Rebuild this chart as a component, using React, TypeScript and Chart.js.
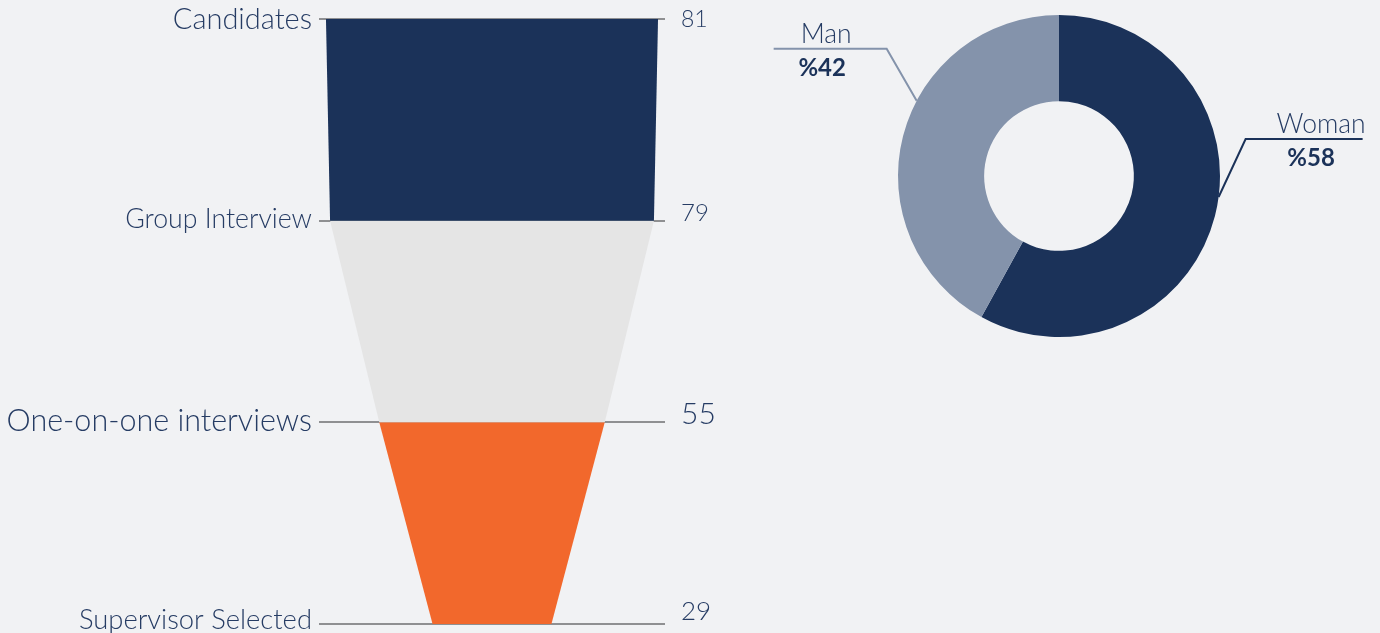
import React, { useEffect, useRef } from "react";
import { Chart, registerables } from "chart.js";

Chart.register(...registerables);

// ---- data ----
const stages = ["Candidates", "Group Interview", "One-on-one interviews", "Supervisor Selected"];
const stageValues = [81, 79, 55, 29];
const segmentColors = ["#1b3259", "#e5e5e5", "#f2682c"];

const genderLabels = ["Woman", "Man"];
const genderValues = [58, 42];
const genderColors = ["#1b3259", "#8493ab"];

// ---- style ----
const BG = "#f1f2f4";
const TEXT = "#263c64";
const FONT = "Lato";
const stageFontSizes = [29, 26.7, 30.5, 27.4];
const valueFontSizes = [23, 24, 30, 26];
const stageLabelShift = [1, -1, -1, -4];
const valueLabelShift = [1, -7, -8, -12];

const genderLabelStyle = [
  { frac: 0.467, elbow: [27, -58], len: 117, dir: 1, nameDx: 17, valueDx: 7 },
  { frac: 0.589, elbow: [-30, -52], len: 113, dir: -1, nameDx: -4, valueDx: -8 },
];

function buildFunnelDatasets() {
  const sets: any[] = [];
  for (let i = 0; i < stageValues.length - 1; i++) {
    const a = stageValues[i];
    const b = stageValues[i + 1];
    sets.push({
      label: stages[i],
      data: [
        { x: -a / 2, y: i },
        { x: a / 2, y: i },
        { x: b / 2, y: i + 1 },
        { x: -b / 2, y: i + 1 },
      ],
      showLine: true,
      fill: "shape",
      backgroundColor: segmentColors[i],
      borderColor: segmentColors[i],
      borderWidth: 0,
      pointRadius: 0,
      tension: 0,
    });
  }
  return sets;
}

// nudges each tick label vertically (text placement only)
const labelShiftPlugin = {
  id: "labelShift",
  beforeDraw(chart: any) {
    const apply = (id: string, shifts: number[]) => {
      const scale = chart.scales[id];
      if (!scale) return;
      const items = scale.getLabelItems(chart.chartArea);
      items.forEach((it: any, i: number) => {
        const v = scale.ticks[i] ? scale.ticks[i].value : i;
        if (!it._shifted && it.options && it.options.translation) {
          it.options.translation = [it.options.translation[0], it.options.translation[1] + (shifts[v] || 0)];
          it._shifted = true;
        }
      });
    };
    apply("y", stageLabelShift);
    apply("y2", valueLabelShift);
  },
};

const labelPlugin = {
  id: "genderLabels",
  afterDatasetsDraw(chart: any) {
    const meta = chart.getDatasetMeta(0);
    const ctx = chart.ctx;
    meta.data.forEach((arc: any, i: number) => {
      const p = arc.getProps(["x", "y", "startAngle", "endAngle", "outerRadius"], true);
      const st = genderLabelStyle[i];
      const a = p.startAngle + st.frac * (p.endAngle - p.startAngle);
      const ax = p.x + Math.cos(a) * p.outerRadius;
      const ay = p.y + Math.sin(a) * p.outerRadius;
      const ex = ax + st.elbow[0];
      const ey = ay + st.elbow[1];
      const hx = ex + st.dir * st.len;
      ctx.save();
      ctx.strokeStyle = genderColors[i];
      ctx.lineWidth = 2;
      ctx.beginPath();
      ctx.moveTo(ax, ay);
      ctx.lineTo(ex, ey);
      ctx.lineTo(hx, ey);
      ctx.stroke();
      const mid = (ex + hx) / 2;
      ctx.fillStyle = TEXT;
      ctx.textAlign = "center";
      ctx.textBaseline = "alphabetic";
      ctx.font = `300 26.5px ${FONT}`;
      ctx.fillText(genderLabels[i], mid + st.nameDx, ey - 6);
      ctx.fillStyle = "#1b3259";
      ctx.font = `bold 24px ${FONT}`;
      ctx.fillText("%" + genderValues[i], mid + st.valueDx, ey + 27);
      ctx.restore();
    });
  },
};

export default function App() {
  const funnelRef = useRef<HTMLCanvasElement>(null);
  const donutRef = useRef<HTMLCanvasElement>(null);

  useEffect(() => {
    document.body.style.margin = "0";
    document.body.style.background = BG;

    const funnel = new Chart(funnelRef.current!, {
      type: "scatter",
      data: { datasets: buildFunnelDatasets() },
      options: {
        animation: false,
        responsive: false,
        devicePixelRatio: 1,
        layout: { padding: { top: 19, bottom: 9, left: 0, right: 0 } },
        plugins: { legend: { display: false }, tooltip: { enabled: false } },
        events: [],
        scales: {
          x: { type: "linear", display: false, min: -42.2, max: 42.2 },
          y: {
            type: "linear",
            position: "left",
            reverse: true,
            min: 0,
            max: 3,
            border: { display: false },
            grid: { color: "#8f9092", lineWidth: 2, drawTicks: false },
            ticks: {
              stepSize: 1,
              padding: 7,
              color: TEXT,
              font: (c: any) => ({
                family: FONT,
                size: stageFontSizes[c.tick ? c.tick.value : 0] ?? 26,
                weight: "300",
              }),
              callback: (v: any) => stages[v],
            },
            afterFit: (s: any) => {
              s.width = 319;
              s.paddingTop = 0;
              s.paddingBottom = 0;
            },
          },
          y2: {
            type: "linear",
            position: "right",
            reverse: true,
            min: 0,
            max: 3,
            border: { display: false },
            grid: { display: false, drawTicks: false },
            ticks: {
              stepSize: 1,
              padding: 16,
              color: TEXT,
              font: (c: any) => ({
                family: FONT,
                size: valueFontSizes[c.tick ? c.tick.value : 0] ?? 24,
                weight: "300",
              }),
              callback: (v: any) => String(stageValues[v]),
            },
            afterFit: (s: any) => {
              s.width = 95;
              s.paddingTop = 0;
              s.paddingBottom = 0;
            },
          },
        },
      } as any,
      plugins: [labelShiftPlugin],
    });

    const donut = new Chart(donutRef.current!, {
      type: "doughnut",
      data: {
        labels: genderLabels,
        datasets: [{ data: genderValues, backgroundColor: genderColors, borderWidth: 0 }],
      },
      options: {
        animation: false,
        responsive: false,
        devicePixelRatio: 1,
        cutout: "46.5%",
        events: [],
        layout: { padding: { left: 138, right: 160, top: 15, bottom: 296 } },
        plugins: { legend: { display: false }, tooltip: { enabled: false } },
      } as any,
      plugins: [labelPlugin],
    });

    return () => {
      funnel.destroy();
      donut.destroy();
    };
  }, []);

  return (
    <div style={{ position: "relative", width: 1380, height: 633, background: BG, overflow: "hidden" }}>
      <canvas ref={funnelRef} width={760} height={633} style={{ position: "absolute", left: 0, top: 0 }} />
      <canvas ref={donutRef} width={620} height={633} style={{ position: "absolute", left: 760, top: 0 }} />
    </div>
  );
}
